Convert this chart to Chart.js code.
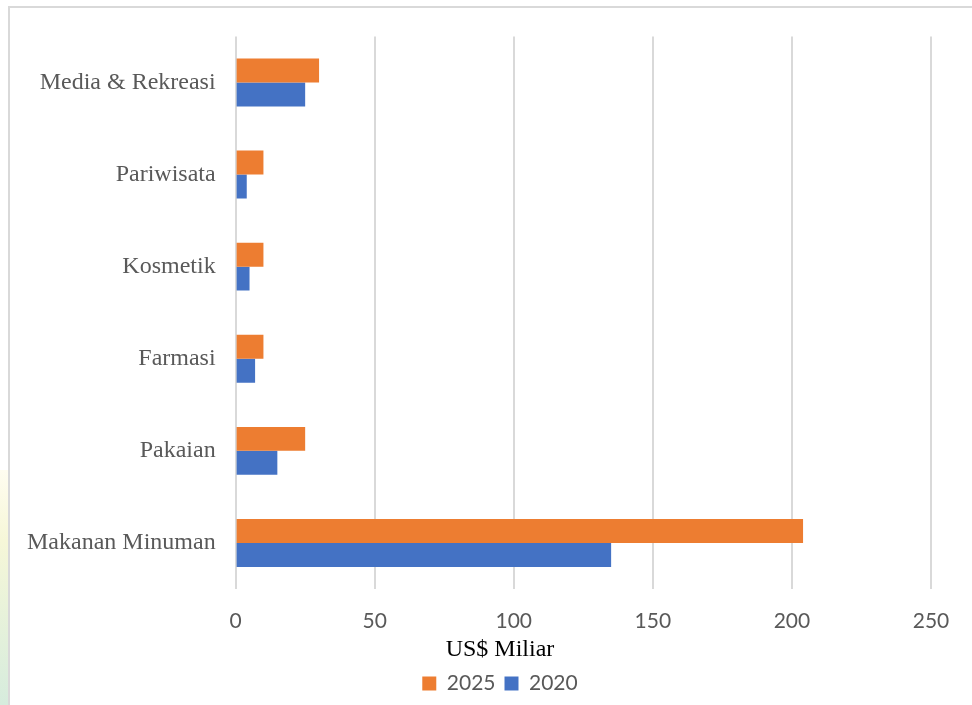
<!DOCTYPE html>
<html>
<head>
<meta charset="utf-8">
<script src="https://cdn.jsdelivr.net/npm/chart.js@4/dist/chart.umd.min.js"></script>
<style>
  html, body { margin: 0; padding: 0; background: #fff; overflow: hidden; width: 972px; height: 705px; }
  #strip { position: absolute; left: 0; top: 470px; width: 8px; height: 235px; z-index: 2;
           background: linear-gradient(#fffdf0, #f6f7d8 30%, #d6ecdd); }
  #frame { position: absolute; left: 8px; top: 6px; width: 1000px; height: 720px; z-index: 2;
           border-top: 2px solid #d9d9d9; border-left: 2px solid #d9d9d9; }
  #wrap { position: absolute; left: 0; top: 2px; width: 1000px; height: 703px; }
</style>
</head>
<body>
<div id="strip"></div>
<div id="frame"></div>
<div id="wrap"><canvas id="chart"></canvas></div>
<script>
// sectors, listed top to bottom
const categories = ['Media & Rekreasi', 'Pariwisata', 'Kosmetik', 'Farmasi', 'Pakaian', 'Makanan Minuman'];
const values2025 = [30, 10, 10, 10, 25, 204];
const values2020 = [25, 4, 5, 7, 15, 135];
const xTicks = [0, 50, 100, 150, 200, 250];

const grey = '#595959';

new Chart(document.getElementById('chart'), {
    type: 'bar',
    data: {
        labels: categories,
        datasets: [
            { label: '2025', data: values2025, backgroundColor: '#ED7D31' },
            { label: '2020', data: values2020, backgroundColor: '#4472C4' }
        ]
    },
    options: {
        indexAxis: 'y',
        responsive: true,
        maintainAspectRatio: false,
        animation: false,
        layout: { padding: { left: 7, right: 7, top: 22, bottom: 1 } },
        datasets: { bar: { barPercentage: 1, categoryPercentage: 0.52 } },
        scales: {
            x: {
                min: 0,
                max: 250,
                afterBuildTicks: axis => { axis.ticks = xTicks.map(v => ({ value: v })); },
                // tick labels sit close above the axis title
                afterFit: axis => { axis.height -= 19; },
                grid: { color: '#d9d9d9', lineWidth: 2, drawTicks: false },
                border: { display: false },
                ticks: { color: grey, padding: 20, font: { family: 'Lato', size: 21 } }
            },
            y: {
                grid: { display: false, drawTicks: false },
                border: { display: false },
                ticks: { color: grey, padding: 20, font: { family: 'Liberation Serif', size: 24 } }
            },
            // empty right-hand margin so legend and title stay centred on the frame
            yRight: {
                type: 'category',
                position: 'right',
                grid: { display: false, drawTicks: false },
                border: { display: false },
                ticks: { display: false },
                afterFit: axis => { axis.width = 62; }
            }
        },
        plugins: {
            title: {
                display: true,
                text: 'US$ Miliar',
                position: 'bottom',
                weight: 500,
                color: '#000',
                padding: { top: 0, bottom: 0 },
                font: { family: 'Liberation Serif', size: 24, weight: 'normal' }
            },
            legend: {
                position: 'bottom',
                labels: {
                    color: grey,
                    boxWidth: 14,
                    boxHeight: 14,
                    padding: 9,
                    font: { family: 'Lato', size: 21 }
                }
            },
            tooltip: { enabled: false }
        }
    }
});
</script>
</body>
</html>
